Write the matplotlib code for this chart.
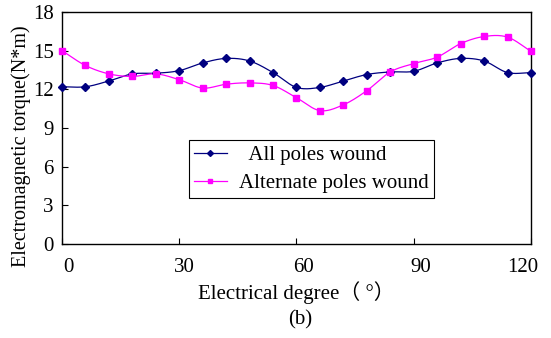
import numpy as np
import matplotlib
matplotlib.use("Agg")
import matplotlib.pyplot as plt
from matplotlib.transforms import ScaledTranslation

plt.rcParams['font.family'] = ['Liberation Serif', 'Noto Sans CJK SC', 'DejaVu Serif']

# data
deg = [0, 6, 12, 18, 24, 30, 36, 42, 48, 54, 60, 66, 72, 78, 84, 90, 96, 102, 108, 114, 120]
all_poles = [12.2, 12.2, 12.65, 13.2, 13.25, 13.45, 14.05, 14.4, 14.2, 13.3, 12.15,
             12.15, 12.65, 13.15, 13.35, 13.4, 14.05, 14.4, 14.2, 13.3, 13.3]
alt_poles = [15.0, 13.85, 13.2, 13.0, 13.2, 12.75, 12.1, 12.4, 12.5, 12.3, 11.35,
             10.35, 10.8, 11.9, 13.35, 14.0, 14.5, 15.55, 16.1, 16.05, 14.95]
labels = ["  All poles wound", "Alternate poles wound"]
xticks = [0, 30, 60, 90, 120]
yticks = [0, 3, 6, 9, 12, 15, 18]


def smooth(x, y, n=20):
    # catmull-rom curve through the points, like Excel's smoothed line
    x = np.asarray(x, float)
    y = np.asarray(y, float)
    px = np.concatenate([[2*x[0]-x[1]], x, [2*x[-1]-x[-2]]])
    py = np.concatenate([[2*y[0]-y[1]], y, [2*y[-1]-y[-2]]])
    t = np.linspace(0, 1, n, endpoint=False)
    xs, ys = [], []
    for i in range(1, len(px)-2):
        for p, out in ((px, xs), (py, ys)):
            p0, p1, p2, p3 = p[i-1], p[i], p[i+1], p[i+2]
            out.extend(0.5*((2*p1) + (-p0+p2)*t + (2*p0-5*p1+4*p2-p3)*t**2
                            + (-p0+3*p1-3*p2+p3)*t**3))
    xs.append(x[-1])
    ys.append(y[-1])
    return xs, ys


fs = 15
fig = plt.figure(figsize=(5.51, 3.38), dpi=100)
ax = fig.add_axes([0.1125, 0.278, 0.8512, 0.6865])

for y, col, mk, lab in ((all_poles, '#000080', 'D', labels[0]),
                        (alt_poles, '#FF00FF', 's', labels[1])):
    sx, sy = smooth(deg, y)
    ax.plot(sx, sy, '-', color=col, lw=0.9)
    ax.plot(deg, y, linestyle='none', marker=mk, color=col,
            ms=4.5 if mk == 'D' else 5, clip_on=False, zorder=3)
    ax.plot([], [], '-', marker=mk, color=col, lw=0.9, ms=3, label=lab)

ax.set_xlim(0, 120)
ax.set_ylim(0, 18)
ax.set_xticks(xticks)
ax.set_yticks(yticks)
ax.tick_params(direction='in', labelsize=fs, length=4, width=0.8)
ax.tick_params(axis='x', pad=10)
ax.tick_params(axis='y', pad=6)
for s in ax.spines.values():
    s.set_linewidth(1.0)

# x tick labels sit a little off their ticks, as in the original
shifts = [6, 5, 7, 7, -8]
for lbl, dx in zip(ax.get_xticklabels(), shifts):
    lbl.set_transform(lbl.get_transform() + ScaledTranslation(dx/100, 0, fig.dpi_scale_trans))

ax.set_xlabel("Electrical degree（ °）", fontsize=fs, labelpad=3)
ax.set_ylabel("Electromagnetic torque(N*m)", fontsize=14.5)
ax.yaxis.set_label_coords(-0.066, 0.42)

leg = ax.legend(loc='upper left', bbox_to_anchor=(0.271, 0.448), fontsize=fs,
                fancybox=False, edgecolor='black', framealpha=1,
                handlelength=1.55, borderpad=0.25, labelspacing=0.4,
                handletextpad=0.6, borderaxespad=0)
leg.get_frame().set_linewidth(0.8)

fig.text(0.545, 0.04, "(b)", fontsize=fs, ha='center')

fig.savefig("out.png", dpi=100)
